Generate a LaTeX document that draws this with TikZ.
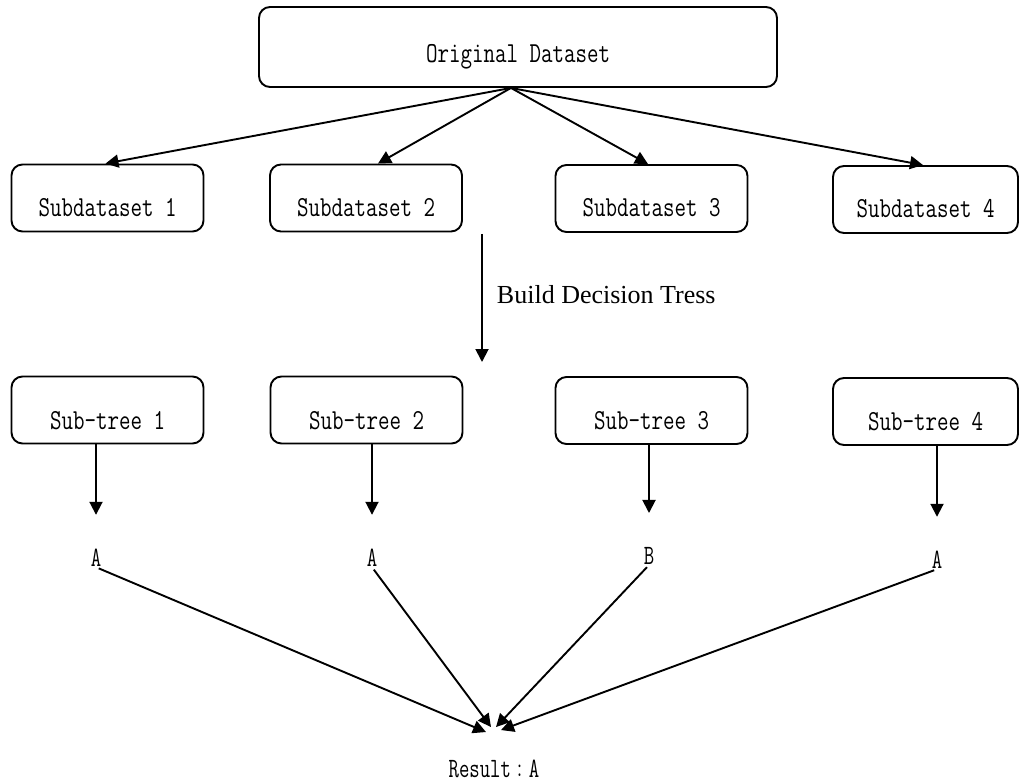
\documentclass[tikz,border=0pt]{standalone}
\usepackage{fontspec}
\usepackage{graphicx}
\newfontfamily\cjkfont{Noto Sans CJK TC}
\newfontfamily\labelfont{Liberation Serif}
\usetikzlibrary{arrows.meta}
\usetikzlibrary{calc}

\newcommand{\boxfont}{\fontsize{29}{30}\selectfont\ttfamily}
\newcommand{\votefont}{\fontsize{28}{30}\selectfont\ttfamily}
\newcommand{\narrow}[1]{\scalebox{0.77}[1]{#1}}
\newcommand{\tall}[1]{\scalebox{0.72}[1]{#1}}
\newcommand{\widecolon}{\hspace{3pt}{\cjkfont\fontsize{18}{18}\selectfont ：}\hspace{4pt}}

\begin{document}
\begin{tikzpicture}[x = 1pt, y = -1pt, line width = 1.9pt]
			\useasboundingbox (0, 0) rectangle (1019, 783);
			
			\begin{scope}[every node/.style={rectangle, draw, rounded corners = 11pt, minimum width = 192pt, minimum height = 67pt, inner sep = 0pt, font = \boxfont, text height = 37pt, text depth = 0pt}]
			\node (orig) [minimum width = 518pt, minimum height = 80pt, text height = 32pt] at (518, 47) {\narrow{Original Dataset}};
			\node (sub1) at (107.5, 198) {\narrow{Subdataset 1}};
			\node (sub2) at (366, 198) {\narrow{Subdataset 2}};
			\node (sub3) at (651.5, 198.5) {\narrow{Subdataset 3}};
			\node (sub4) [minimum width = 185pt] at (925.5, 199.5) {\narrow{Subdataset 4}};
			\end{scope}
			
			\begin{scope}[every node/.style={rectangle, draw, rounded corners = 11pt, minimum width = 192pt, minimum height = 67pt, inner sep = 0pt, font = \boxfont, text height = 38pt, text depth = 0pt}]
			\node (tree1) at (107.5, 410) {\narrow{Sub-tree 1}};
			\node (tree2) at (366.5, 410) {\narrow{Sub-tree 2}};
			\node (tree3) at (651.5, 410.5) {\narrow{Sub-tree 3}};
			\node (tree4) [minimum width = 185pt] at (925.5, 411.5) {\narrow{Sub-tree 4}};
			\end{scope}
			
			\begin{scope}[every node/.style={inner sep = 0pt, font = \votefont}]
			\node (vote1) at (96, 557.5) {\tall{A}};
			\node (vote2) at (372, 557.5) {\tall{A}};
			\node (vote3) at (649, 555.5) {\tall{B}};
			\node (vote4) at (937, 559.5) {\tall{A}};
			\node (result) [text height = 16pt, text depth = 0pt] at (494, 769) {\tall{Result\widecolon A}};
			\end{scope}
			
			\coordinate (buildtop) at (482, 234);
			\coordinate (buildend) at (482, 362);
			
			\begin{scope}[>={Triangle[width = 13pt, length = 13pt]}]
			\draw [->] ([xshift = -7pt]orig.south) -- ([xshift = -2pt]sub1.north);
			\draw [->] ([xshift = -7pt]orig.south) -- ([xshift = 12pt]sub2.north);
			\draw [->] ([xshift = -7pt]orig.south) -- ([xshift = -3.5pt]sub3.north);
			\draw [->] ([xshift = -7pt]orig.south) -- ([xshift = -2.5pt]sub4.north);
			
			\draw [->] (buildtop) -- node [pos = 0.47, right = 14pt, inner sep = 0pt, font = \fontsize{26}{28}\selectfont\labelfont] {Build Decision Tress} (buildend);
			
			\draw [->, shorten >= 33pt] (tree1.south -| vote1.north) -- (vote1.north);
			\draw [->, shorten >= 33pt] (tree2.south -| vote2.north) -- (vote2.north);
			\draw [->, shorten >= 33pt] (tree3.south -| vote3.north) -- (vote3.north);
			\draw [->, shorten >= 33pt] (tree4.south -| vote4.north) -- (vote4.north);
			
			\draw [->, shorten <= 3pt] (vote1.south) -- ([xshift = -8pt, yshift = 28pt]result.north);
			\draw [->, shorten <= 3pt] (vote2.south) -- ([xshift = -3pt, yshift = 33pt]result.north);
			\draw [->, shorten <= 3pt] (vote3.south) -- ([xshift = 2pt, yshift = 33pt]result.north);
			\draw [->, shorten <= 3pt] (vote4.south) -- ([xshift = 7pt, yshift = 30pt]result.north);
			\end{scope}
			
			\end{tikzpicture}
\end{document}
